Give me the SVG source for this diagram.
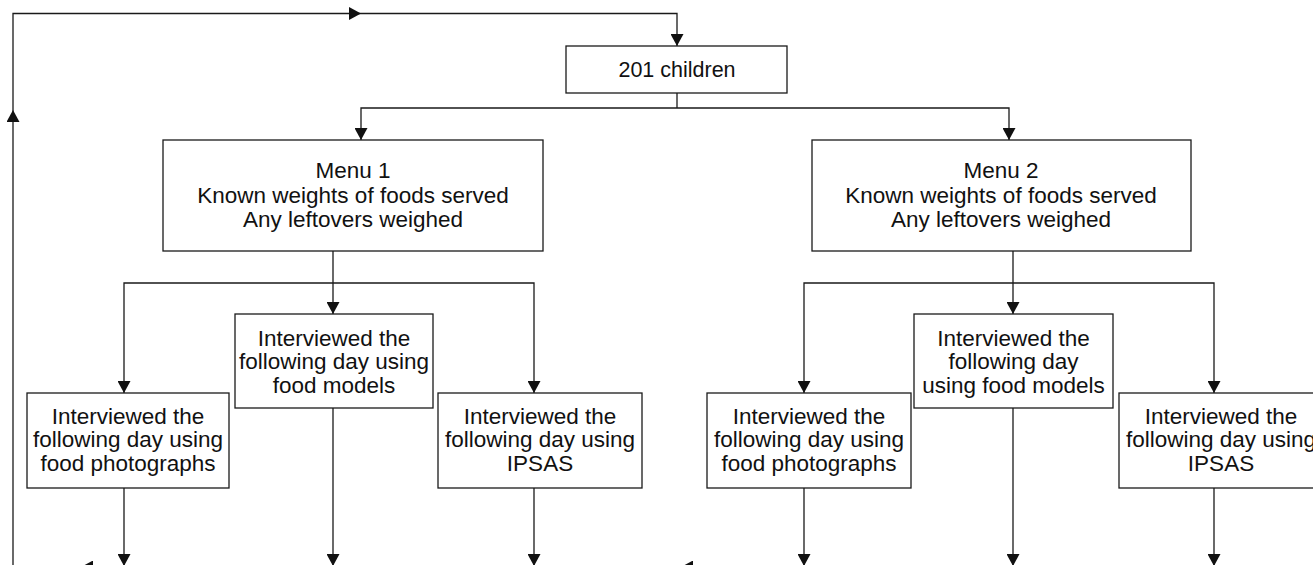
<svg xmlns="http://www.w3.org/2000/svg" width="1313" height="565" viewBox="0 0 1313 565">
<style>
.box{fill:#fff;stroke:#1a1a1a;stroke-width:1.3}
.ln{fill:none;stroke:#1a1a1a;stroke-width:1.3}
text{font-family:"Liberation Sans",Arial,sans-serif;font-size:22.5px;fill:#111;text-anchor:middle}
</style>
<defs>
<marker id="ah" viewBox="0 0 12 13" refX="12" refY="6.5" markerWidth="12" markerHeight="13" orient="auto" markerUnits="userSpaceOnUse">
<path d="M0,0 L12,6.5 L0,13 z" fill="#111"/>
</marker>
</defs>
<rect width="1313" height="565" fill="#fff"/>
<g id="connectors">
<path class="ln" d="M13,565 L13,110" marker-end="url(#ah)"/>
<path class="ln" d="M13,110 L13,13.5 L361,13.5" marker-end="url(#ah)"/>
<path class="ln" d="M361,13.5 L677,13.5 L677,46" marker-end="url(#ah)"/>
<path class="ln" d="M677,93 L677,108"/>
<path class="ln" d="M677,108 L361,108 L361,140" marker-end="url(#ah)"/>
<path class="ln" d="M677,108 L1009,108 L1009,140" marker-end="url(#ah)"/>
<path class="ln" d="M333,251 L333,283"/>
<path class="ln" d="M333,283 L124,283 L124,393" marker-end="url(#ah)"/>
<path class="ln" d="M333,283 L333,314" marker-end="url(#ah)"/>
<path class="ln" d="M333,283 L534,283 L534,393" marker-end="url(#ah)"/>
<path class="ln" d="M1013,251 L1013,283"/>
<path class="ln" d="M1013,283 L804,283 L804,393" marker-end="url(#ah)"/>
<path class="ln" d="M1013,283 L1013,314" marker-end="url(#ah)"/>
<path class="ln" d="M1013,283 L1214,283 L1214,393" marker-end="url(#ah)"/>
<path class="ln" d="M124,488 L124,566" marker-end="url(#ah)"/>
<path class="ln" d="M333,408 L333,566" marker-end="url(#ah)"/>
<path class="ln" d="M534,488 L534,566" marker-end="url(#ah)"/>
<path class="ln" d="M804,488 L804,566" marker-end="url(#ah)"/>
<path class="ln" d="M1013,408 L1013,566" marker-end="url(#ah)"/>
<path class="ln" d="M1214,488 L1214,566" marker-end="url(#ah)"/>
<path class="ln" d="M100,567 L81,567" marker-end="url(#ah)"/>
<path class="ln" d="M700,567 L681,567" marker-end="url(#ah)"/>
</g>
<g id="n201">
<rect class="box" x="566" y="46" width="221" height="47"/>
<text x="677" y="77" style="font-size:21.5px">201 children</text>
</g>
<g id="menu1">
<rect class="box" x="163" y="140" width="380" height="111"/>
<text x="353" y="178">Menu 1</text>
<text x="353" y="203">Known weights of foods served</text>
<text x="353" y="227">Any leftovers weighed</text>
</g>
<g id="menu2">
<rect class="box" x="812" y="140" width="379" height="111"/>
<text x="1001" y="178">Menu 2</text>
<text x="1001" y="203">Known weights of foods served</text>
<text x="1001" y="227">Any leftovers weighed</text>
</g>
<g id="m1photo">
<rect class="box" x="27" y="393" width="202" height="95"/>
<text x="128" y="423.5">Interviewed the</text>
<text x="128" y="447">following day using</text>
<text x="128" y="470.5">food photographs</text>
</g>
<g id="m1models">
<rect class="box" x="235" y="314" width="198" height="94"/>
<text x="334" y="345.5">Interviewed the</text>
<text x="334" y="369">following day using</text>
<text x="334" y="392.5">food models</text>
</g>
<g id="m1ipsas">
<rect class="box" x="438" y="393" width="204" height="95"/>
<text x="540" y="423.5">Interviewed the</text>
<text x="540" y="447">following day using</text>
<text x="540" y="470.5">IPSAS</text>
</g>
<g id="m2photo">
<rect class="box" x="707" y="393" width="204" height="95"/>
<text x="809" y="423.5">Interviewed the</text>
<text x="809" y="447">following day using</text>
<text x="809" y="470.5">food photographs</text>
</g>
<g id="m2models">
<rect class="box" x="914" y="314" width="199" height="94"/>
<text x="1013.5" y="345.5">Interviewed the</text>
<text x="1013.5" y="369">following day</text>
<text x="1013.5" y="392.5">using food models</text>
</g>
<g id="m2ipsas">
<rect class="box" x="1119" y="393" width="204" height="95"/>
<text x="1221" y="423.5">Interviewed the</text>
<text x="1221" y="447">following day using</text>
<text x="1221" y="470.5">IPSAS</text>
</g>
</svg>
